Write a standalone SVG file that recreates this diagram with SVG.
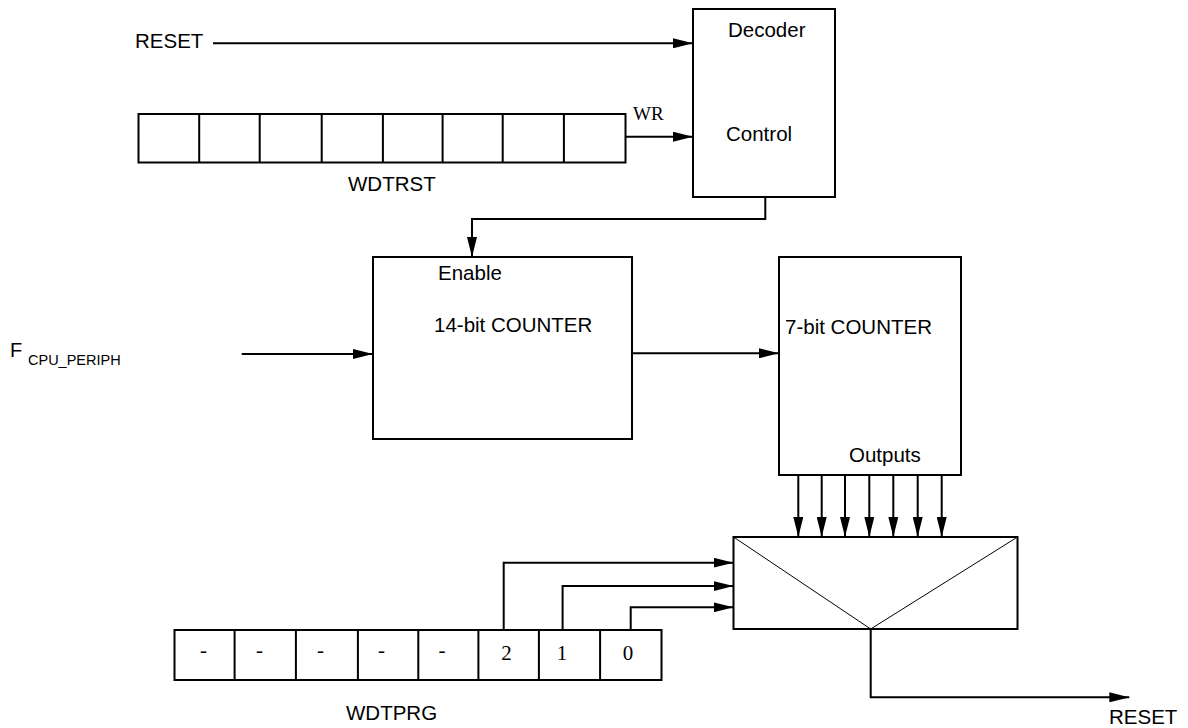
<svg xmlns="http://www.w3.org/2000/svg" width="1188" height="728" viewBox="0 0 1188 728">
<style>
.box{fill:#fff;stroke:#000;stroke-width:2}
.cell{fill:none;stroke:#000;stroke-width:2}
.wire{fill:none;stroke:#000;stroke-width:2}
.thin{fill:none;stroke:#000;stroke-width:1}
.t{font-family:"Liberation Sans",Arial,sans-serif;font-size:20.5px;fill:#000}
.s{font-family:"Liberation Serif","Times New Roman",serif;font-size:21px;fill:#000}
.sub{font-family:"Liberation Sans",Arial,sans-serif;font-size:14.5px;fill:#000}
</style>
<defs>
<marker id="ah" markerUnits="userSpaceOnUse" markerWidth="20" markerHeight="10" refX="20" refY="5" orient="auto">
<path d="M0,0 L20,5 L0,10 z" fill="#000"/>
</marker>
</defs>
<rect width="1188" height="728" fill="#fff"/>

<g id="decoder">
<rect class="box" x="693" y="9" width="142" height="188"/>
<text class="t" x="728" y="37">Decoder</text>
<text class="t" x="726" y="141">Control</text>
</g>

<g id="wdtrst">
<rect class="cell" x="138.5" y="114" width="487" height="48.5"/>
<path class="cell" d="M199.2,114V162.5M259.7,114V162.5M321.7,114V162.5M382.9,114V162.5M442.6,114V162.5M502.7,114V162.5M563.9,114V162.5"/>
<text class="t" x="348" y="191">WDTRST</text>
</g>

<g id="counter14">
<rect class="box" x="373" y="257" width="259" height="182"/>
<text class="t" x="438" y="280">Enable</text>
<text class="t" x="434" y="332">14-bit COUNTER</text>
</g>

<g id="counter7">
<rect class="box" x="779" y="257" width="182" height="218"/>
<text class="t" x="785" y="334">7-bit COUNTER</text>
<text class="t" x="849" y="462">Outputs</text>
</g>

<g id="mux">
<rect class="box" x="733.5" y="537" width="284" height="92"/>
<path class="thin" d="M733.5,537 L870.7,629 L1017.5,537"/>
</g>

<g id="wdtprg">
<rect class="cell" x="174.5" y="630" width="487" height="50"/>
<path class="cell" d="M234.6,630V680M295.9,630V680M357.9,630V680M418.3,630V680M478.4,630V680M538.9,630V680M600.1,630V680"/>
<text class="s" x="203.5" y="657" text-anchor="middle">-</text>
<text class="s" x="259.5" y="657" text-anchor="middle">-</text>
<text class="s" x="320.5" y="657" text-anchor="middle">-</text>
<text class="s" x="381.5" y="657" text-anchor="middle">-</text>
<text class="s" x="442" y="657" text-anchor="middle">-</text>
<text class="s" x="506.5" y="660" text-anchor="middle">2</text>
<text class="s" x="562" y="660" text-anchor="middle">1</text>
<text class="s" x="628" y="660" text-anchor="middle">0</text>
<text class="t" x="346" y="720">WDTPRG</text>
</g>

<g id="labels">
<text class="t" x="135" y="48">RESET</text>
<text class="s" x="633" y="120" style="font-size:19px">WR</text>
<text class="t" x="10" y="357" style="font-size:20px">F<tspan class="sub" x="28" y="365">CPU_PERIPH</tspan></text>
<text class="t" x="1109" y="724">RESET</text>
</g>

<g id="connectors">
<path class="wire" d="M213,43.3H693" marker-end="url(#ah)"/>
<path class="wire" d="M625.5,136.7H693" marker-end="url(#ah)"/>
<path class="wire" d="M765.3,197V219H472V257" marker-end="url(#ah)"/>
<path class="wire" d="M241.7,354H373" marker-end="url(#ah)"/>
<path class="wire" d="M632,353.3H779" marker-end="url(#ah)"/>
<path class="wire" d="M798.3,475V537" marker-end="url(#ah)"/>
<path class="wire" d="M821.7,475V537" marker-end="url(#ah)"/>
<path class="wire" d="M845,475V537" marker-end="url(#ah)"/>
<path class="wire" d="M869.3,475V537" marker-end="url(#ah)"/>
<path class="wire" d="M893.3,475V537" marker-end="url(#ah)"/>
<path class="wire" d="M917.7,475V537" marker-end="url(#ah)"/>
<path class="wire" d="M941.7,475V537" marker-end="url(#ah)"/>
<path class="wire" d="M503.7,630V562.7H733.5" marker-end="url(#ah)"/>
<path class="wire" d="M562.6,630V586H733.5" marker-end="url(#ah)"/>
<path class="wire" d="M630.7,630V607.3H733.5" marker-end="url(#ah)"/>
<path class="wire" d="M870.7,629V697.3H1129.3" marker-end="url(#ah)"/>
</g>
</svg>
